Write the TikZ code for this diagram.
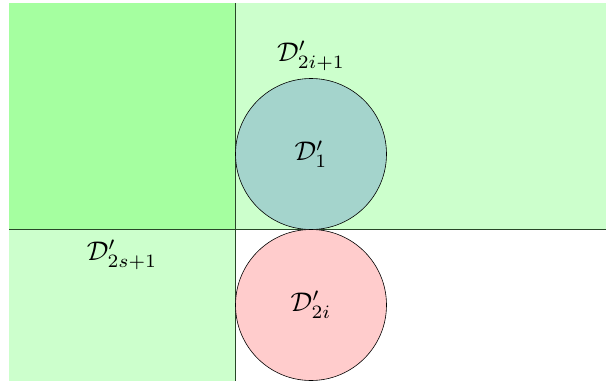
\documentclass[tikz,border=0pt]{standalone}
\usepackage{amsmath}
\definecolor{lg}{RGB}{204,255,204}
\definecolor{dg}{RGB}{165,255,160}
\definecolor{teal1}{RGB}{164,212,204}
\definecolor{pink1}{RGB}{255,204,204}
\definecolor{ln}{RGB}{40,70,40}
\newcommand{\biglbl}[1]{\scalebox{2.7}{$#1$}}
\tikzset{lbl/.style={inner sep=0pt},
  disc/.style={draw=black, line width=0.6pt, circle, minimum size=151pt, inner sep=0pt}}
\begin{document}
\begin{tikzpicture}[x=1pt,y=-1pt]
\useasboundingbox (0,0) rectangle (606,381);
\fill[lg] (9,3) rectangle (606,229);
\fill[lg] (9,229) rectangle (235,381);
\fill[dg] (9,3) rectangle (235,229);
\coordinate (vt) at (235,3);
\coordinate (vb) at (235,381);
\coordinate (hl) at (9,229);
\coordinate (hr) at (606,229);
\draw[ln, line width=0.8pt] (vt) -- (vb);
\draw[ln, line width=0.8pt] (hl) -- (hr);
\node[disc, fill=teal1] (c1) at (311,154) {\biglbl{\mathcal{D}'_1}};
\node[disc, fill=pink1] (c2) at (311,305) {\biglbl{\mathcal{D}'_{2i}}};
\node[lbl] (l3) at (311,56) {\biglbl{\mathcal{D}'_{2i+1}}};
\node[lbl] (l4) at (122,255) {\biglbl{\mathcal{D}'_{2s+1}}};
\end{tikzpicture}
\end{document}
